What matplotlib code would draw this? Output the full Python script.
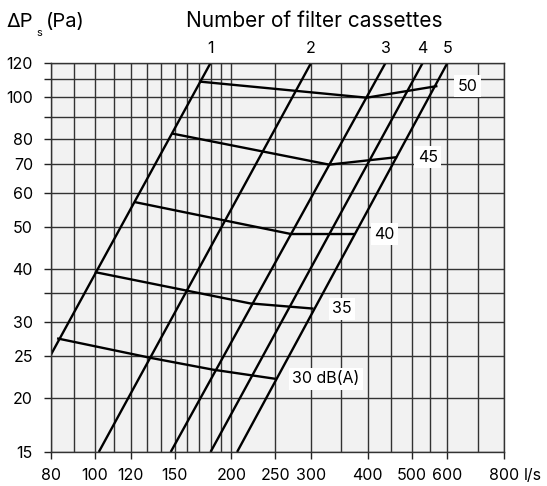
import numpy as np
import matplotlib.pyplot as plt
from matplotlib.ticker import FixedLocator, NullFormatter
import matplotlib.transforms as mtransforms

plt.rcParams['font.family'] = ['Inter', 'DejaVu Sans']

# number of filter cassettes: flow (l/s) where each line meets 15 Pa and 120 Pa
cassettes = ['1', '2', '3', '4', '5']
q_at_15 = [61, 102, 147, 180, 206]
q_at_120 = [180, 300, 438, 529, 600]

# sound level curves, dB(A): flow (l/s) and pressure (Pa)
db30_q = [83, 133, 182, 249]
db30_p = [27.5, 24.8, 23.3, 22.2]
db35_q = [100.5, 220, 302]
db35_p = [39.2, 33.2, 32.3]
db40_q = [123, 271, 372]
db40_p = [57.0, 48.1, 48.1]
db45_q = [149, 329, 462]
db45_p = [82.2, 69.7, 72.5]
db50_q = [171, 398, 567]
db50_p = [108.6, 99.7, 106]

curve_labels = ['30 dB(A)', '35', '40', '45', '50']
label_q = [273, 334, 414, 516, 632]

x_ticks = [80, 100, 120, 150, 200, 250, 300, 400, 500, 600, 800]
x_grid = [90, 110, 130, 140, 160, 170, 180, 190, 350, 450, 550, 700]
y_ticks = [15, 20, 25, 30, 40, 50, 60, 70, 80, 100, 120]
y_grid = [35, 90, 110]

fs = 11.5

fig = plt.figure(figsize=(5.47, 4.86), dpi=100)
ax = fig.add_axes([51 / 547, 1 - 452 / 486, 453 / 547, 389 / 486])
ax.set_facecolor('#f2f2f2')
ax.set_xscale('log')
ax.set_yscale('log')
ax.set_xlim(80, 800)
ax.set_ylim(15, 120)

ax.xaxis.set_major_locator(FixedLocator(x_ticks))
ax.xaxis.set_minor_locator(FixedLocator(x_grid))
ax.yaxis.set_major_locator(FixedLocator(y_ticks))
ax.yaxis.set_minor_locator(FixedLocator(y_grid))
ax.set_xticklabels([str(v) for v in x_ticks])
ax.set_yticklabels([str(v) for v in y_ticks])
ax.xaxis.set_minor_formatter(NullFormatter())
ax.yaxis.set_minor_formatter(NullFormatter())
ax.tick_params(axis='both', which='major', direction='out', length=5, width=1.0,
               color='#222222', labelsize=fs)
ax.tick_params(axis='x', which='major', pad=6.5)
ax.tick_params(axis='y', which='major', pad=8)
ax.tick_params(axis='x', which='minor', length=0)
ax.tick_params(axis='y', which='minor', direction='out', length=5, width=1.0, color='#222222')
ax.grid(which='both', color='#333333', linewidth=1.0)
for s in ax.spines.values():
    s.set_color('#333333')
    s.set_linewidth(1.0)

top = mtransforms.blended_transform_factory(ax.transData, ax.transAxes)
for name, q0, q1 in zip(cassettes, q_at_15, q_at_120):
    ax.plot([q0, q1], [15, 120], color='black', lw=1.7, solid_capstyle='butt')
    ax.text(q1, 1.026, name, transform=top, ha='center', va='baseline', fontsize=fs)

curves = [(db30_q, db30_p), (db35_q, db35_p), (db40_q, db40_p), (db45_q, db45_p), (db50_q, db50_p)]
for (q, p), lab, lq in zip(curves, curve_labels, label_q):
    ax.plot(q, p, color='black', lw=1.7, solid_joinstyle='miter')
    ax.text(lq, p[-1], lab, ha='left', va='center', fontsize=fs,
            bbox=dict(facecolor='white', edgecolor='none', pad=2.5))

# unit after the last x tick label, on the same line
unit_tr = ax.transAxes + mtransforms.ScaledTranslation(20 / 100, -11.5 / 72, fig.dpi_scale_trans)
ax.text(1.0, 0, 'l/s', transform=unit_tr, ha='left', va='top', fontsize=fs)

fig.text(6 / 547, 1 - 27 / 486, 'ΔP', fontsize=14.5, va='baseline', ha='left')
fig.text(36 / 547, 1 - 36 / 486, 's', fontsize=8, va='baseline', ha='left')
fig.text(46 / 547, 1 - 27 / 486, '(Pa)', fontsize=14.5, va='baseline', ha='left')
fig.text(314.5 / 547, 1 - 27 / 486, 'Number of filter cassettes', fontsize=15,
         va='baseline', ha='center')

fig.savefig('out.png', dpi=100)
